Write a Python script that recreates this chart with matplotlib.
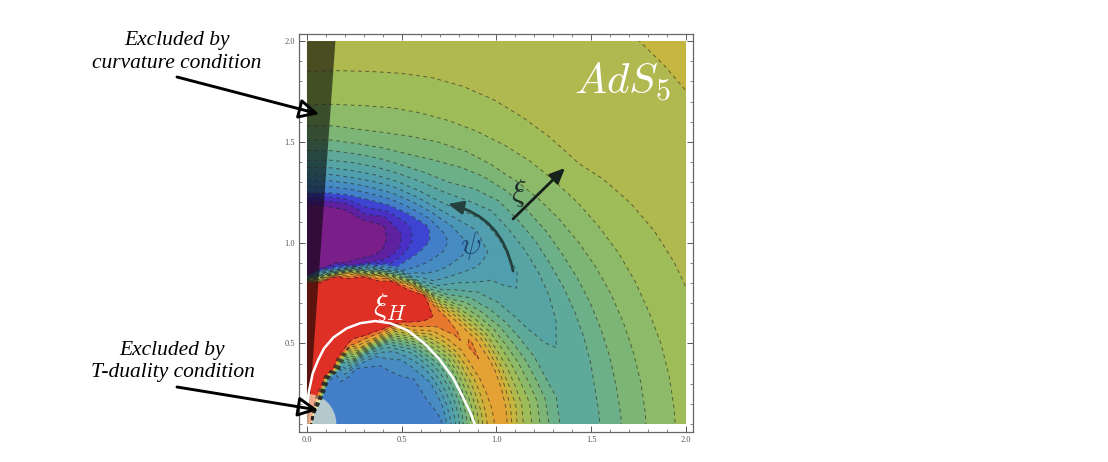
import matplotlib
matplotlib.use("Agg")
import matplotlib.pyplot as plt
from matplotlib.patches import Rectangle, Polygon, Ellipse, FancyArrowPatch
from matplotlib.ticker import MultipleLocator
import numpy as np

# radii and angles of the table
radii = [.05, .15, .25, .35, .4, .45, .55, .65, .72, .8, .84, .88, .92, .96, 1.0, 1.05, 1.1, 1.15,
         1.2, 1.25, 1.3, 1.35, 1.4, 1.5, 1.6, 1.7, 1.85, 2.0, 2.2, 2.5, 2.9]
angles = [0, 5, 10, 15, 20, 25, 30, 35, 40, 45, 50, 55, 60, 65, 70, 75, 80, 85, 90]

# one list per angle, position along the colour scale
v0 = [.22, .22, .22, .22, .22, .22, .22, .23, .25, .42, .52, .62, .72, .80, .85, .87, .76, .69, .64, .58, .53, .495, .475, .485, .52, .568, .62, .665, .70, .733, .775]
v5 = [.22, .22, .22, .22, .22, .22, .22, .23, .25, .42, .52, .62, .72, .805, .855, .875, .77, .695, .64, .58, .53, .49, .47, .48, .52, .568, .62, .667, .702, .733, .775]
v10 = [.22, .22, .22, .22, .22, .22, .22, .235, .25, .42, .52, .62, .72, .81, .86, .88, .78, .70, .64, .58, .525, .49, .465, .48, .525, .569, .622, .668, .703, .733, .775]
v15 = [.22, .22, .22, .22, .22, .22, .22, .235, .26, .43, .53, .64, .74, .825, .875, .88, .76, .675, .61, .55, .50, .475, .46, .475, .525, .57, .625, .67, .705, .733, .775]
v20 = [.22, .22, .22, .22, .22, .22, .22, .24, .28, .45, .55, .66, .76, .84, .89, .87, .74, .65, .58, .52, .48, .46, .45, .47, .525, .572, .628, .675, .708, .733, .775]
v25 = [.22, .22, .22, .22, .22, .22, .225, .245, .30, .47, .57, .685, .79, .87, .90, .845, .71, .615, .545, .49, .455, .435, .435, .465, .525, .574, .631, .678, .71, .733, .775]
v30 = [.22, .22, .22, .22, .22, .22, .23, .25, .33, .50, .60, .71, .82, .89, .91, .82, .68, .58, .51, .46, .43, .415, .42, .46, .525, .577, .635, .682, .713, .733, .775]
v35 = [.22, .22, .22, .22, .22, .22, .235, .27, .37, .58, .69, .79, .875, .91, .87, .73, .61, .525, .47, .435, .41, .40, .405, .455, .525, .581, .64, .689, .715, .733, .775]
v40 = [.22, .22, .22, .22, .22, .22, .24, .30, .42, .66, .78, .87, .92, .92, .82, .64, .54, .47, .43, .405, .39, .385, .395, .45, .52, .585, .645, .695, .718, .733, .775]
v45 = [.22, .22, .22, .22, .22, .225, .25, .35, .55, .85, .93, .96, .96, .90, .68, .50, .43, .385, .36, .345, .345, .35, .375, .445, .52, .59, .651, .701, .72, .733, .775]
v50 = [.22, .22, .22, .22, .225, .23, .27, .45, .72, .97, 1, 1, 1, .96, .52, .36, .32, .30, .29, .285, .295, .32, .36, .44, .52, .596, .657, .703, .722, .733, .775]
v55 = [.22, .22, .22, .22, .225, .235, .42, .85, 1, 1, 1, 1, 1, .85, .38, .28, .25, .235, .225, .235, .27, .33, .385, .47, .535, .604, .665, .705, .723, .734, .775]
v60 = [.22, .22, .22, .24, .30, .40, .80, 1, 1, 1, 1, 1, 1, .60, .24, .20, .18, .17, .17, .19, .26, .34, .41, .50, .555, .613, .673, .706, .725, .734, .775]
v65 = [.22, .22, .22, .23, .27, .40, .93, 1, 1, 1, 1, 1, .85, .30, .12, .08, .06, .09, .13, .18, .26, .34, .415, .515, .575, .623, .68, .708, .726, .734, .775]
v70 = [.22, .22, .22, .26, .97, 1, 1, 1, 1, 1, 1, .97, .45, .10, .04, .02, .04, .04, .10, .18, .26, .34, .42, .53, .59, .632, .687, .71, .727, .735, .775]
v75 = [.22, .22, .85, 1, 1, 1, 1, 1, 1, 1, 1, .80, .08, .03, 0, 0, 0, .05, .13, .19, .27, .35, .425, .535, .60, .64, .693, .712, .728, .735, .775]
v80 = [1, 1, 1, 1, 1, 1, 1, 1, 1, 1, .97, .25, .03, 0, 0, 0, 0, .02, .07, .19, .275, .36, .43, .54, .61, .648, .697, .713, .729, .735, .775]
v85 = [1, 1, 1, 1, 1, 1, 1, 1, 1, 1, .5, .03, 0, 0, 0, 0, 0, 0, .07, .195, .28, .36, .435, .54, .61, .653, .699, .714, .73, .735, .775]
v90 = [1, 1, 1, 1, 1, 1, 1, 1, 1, 1, 0, 0, 0, 0, 0, 0, 0, 0, .07, .2, .285, .365, .44, .545, .615, .657, .70, .715, .73, .735, .775]

levels = [.05, .1, .15, .2, .25, .3, .35, .4, .45, .5, .55, .6, .65, .7, .75, .8, .85, .9, .95]
band_colors = ["#7a1f8a", "#5f21a0", "#4a2fc4", "#3e44d2", "#437ec9", "#468bc2", "#4c96b8", "#519eae",
               "#56a4a4", "#5fa99a", "#6cb08a", "#7cb576", "#8cba68", "#9ebd58", "#afb94f", "#c4b63f",
               "#d6ad38", "#e3a233", "#e8782d", "#df3026"]

# the white horizon curve
arc_x = [.0, .01, .03, .06, .09, .14, .21, .28, .36, .44, .53, .62, .70, .77, .83, .865, .885]
arc_y = [.17, .26, .35, .42, .475, .53, .575, .60, .611, .60, .565, .50, .42, .33, .22, .15, .10]

x_ticks = [0, .5, 1, 1.5, 2]
y_ticks = [.5, 1, 1.5, 2]

plt.rcParams["mathtext.fontset"] = "cm"
fig = plt.figure(figsize=(11.08, 4.62), dpi=100)
W, H = 1108, 462
ax = fig.add_axes([299 / W, 1 - 432 / H, 394 / W, 398 / H])
ax.set_xlim(-.042, 2.037)
ax.set_ylim(.0605, 2.035)


def px(x, y):
    return x / W, 1 - y / H


th = np.radians(angles)
rr, tt = np.meshgrid(radii, th)
X = rr * np.cos(tt)
Y = rr * np.sin(tt)
V = np.array([v0, v5, v10, v15, v20, v25, v30, v35, v40, v45, v50, v55, v60, v65, v70, v75, v80, v85, v90])

plot_box = Rectangle((0, .1), 2, 1.9, transform=ax.transData)
cf = ax.contourf(X, Y, V, levels=levels, colors=band_colors, extend="both")
cf.set_clip_path(plot_box)
cl = ax.contour(X, Y, V, levels=levels, colors="#222222", linewidths=.7, linestyles=[(0, (4, 3.5))], alpha=.6)
cl.set_clip_path(plot_box)

arc, = ax.plot(arc_x, arc_y, color="white", lw=1.8, solid_joinstyle="round")
arc.set_clip_path(plot_box)

# excluded regions
wedge = Polygon([(0, .1), (.0075, .1), (.15, 2), (0, 2)], closed=True, fc="black", alpha=.58, ec="none")
ax.add_patch(wedge)
blob = Ellipse((0, .1), .31, .30, fc="#fffcd0", alpha=.6, ec="none")
ax.add_patch(blob)
blob.set_clip_path(plot_box)

ax.xaxis.set_minor_locator(MultipleLocator(.1))
ax.yaxis.set_minor_locator(MultipleLocator(.1))
ax.set_xticks(x_ticks)
ax.set_yticks(y_ticks)
ax.set_xticklabels(["%.1f" % t for t in x_ticks], family="Liberation Serif", fontsize=6, color="#555555")
ax.set_yticklabels(["%.1f" % t for t in y_ticks], family="Liberation Serif", fontsize=6, color="#555555")
ax.tick_params(which="major", direction="in", top=True, right=True, length=4, width=.7, color="#555555", pad=3)
ax.tick_params(which="minor", direction="in", top=True, right=True, length=2, width=.5, color="#555555")
for s in ax.spines.values():
    s.set_color("#666666")
    s.set_linewidth(.9)

# labels inside the plot
fig.text(*px(622, 82), r"$AdS_5$", color="white", fontsize=31, ha="center", va="center")
fig.text(*px(390, 307), r"$\xi_H$", color="white", fontsize=22, ha="center", va="center")
fig.text(*px(519, 193), r"$\xi$", color="#1e2f28", fontsize=22, ha="center", va="center")
fig.text(*px(471, 246), r"$\psi$", color="#1f4a78", fontsize=22, ha="center", va="center")

fig.add_artist(FancyArrowPatch(px(513, 219), px(565, 168), transform=fig.transFigure, arrowstyle="-|>,head_length=9,head_width=4",
                               mutation_scale=1, lw=2, color="#17211c", shrinkA=0, shrinkB=0))
fig.add_artist(FancyArrowPatch(px(513, 271), px(448, 204), transform=fig.transFigure, connectionstyle="arc3,rad=.32",
                               arrowstyle="-|>,head_length=9,head_width=4", mutation_scale=1, lw=2, color="#24403f",
                               shrinkA=0, shrinkB=0))

# notes on the left
note_font = dict(family="Liberation Serif", style="italic", fontsize=15.5, color="black", ha="center", va="center")
fig.text(*px(177, 41), "Excluded by", **note_font)
fig.text(*px(177, 64), "curvature condition", **note_font)
fig.text(*px(172, 351), "Excluded by", **note_font)
fig.text(*px(173, 373), "T-duality condition", **note_font)

for start, tip in [((177, 77), (319, 114)), ((177, 387), (318, 410))]:
    fig.add_artist(FancyArrowPatch(px(*start), px(*tip), transform=fig.transFigure, arrowstyle="-|>,head_length=12,head_width=6",
                                   mutation_scale=1, lw=2.1, ec="black", fc="none", shrinkA=0, shrinkB=0))

fig.savefig("out.png", dpi=100)
